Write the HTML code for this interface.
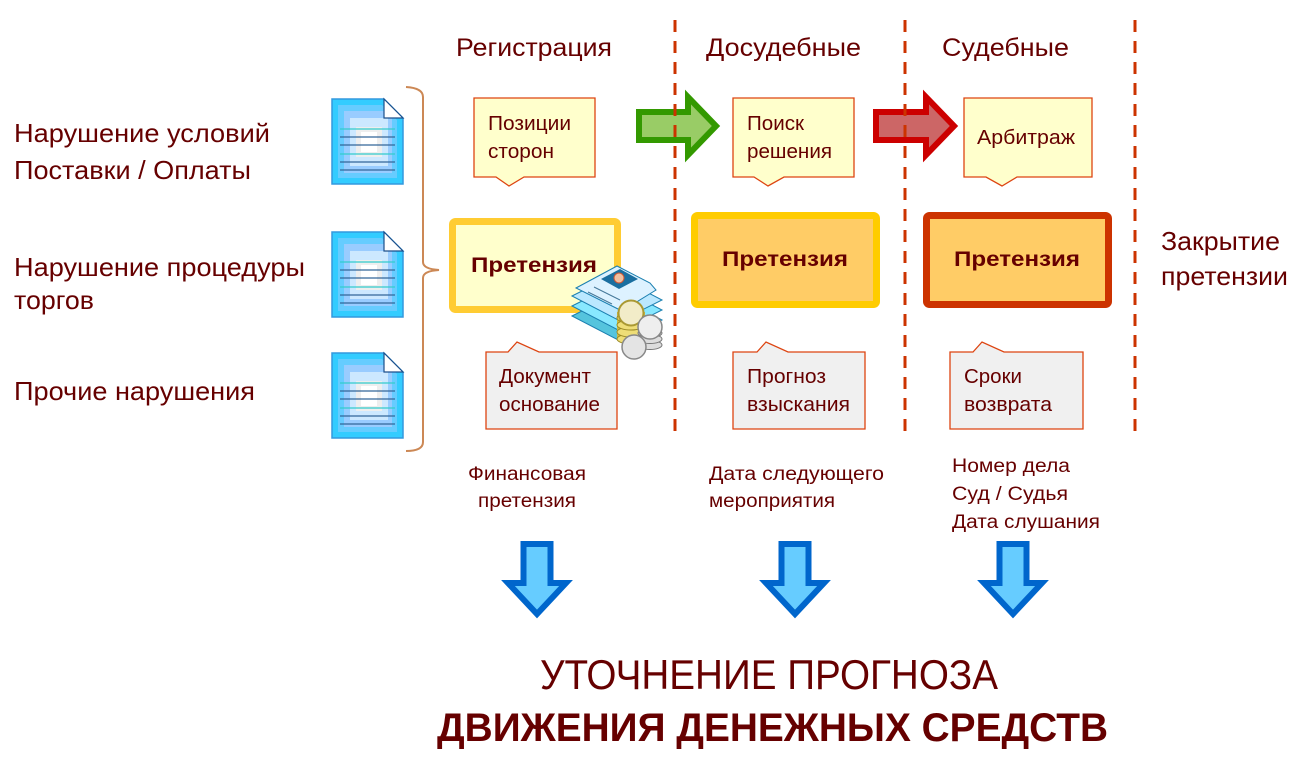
<!DOCTYPE html>
<html><head><meta charset="utf-8"><style>
html,body{margin:0;padding:0;background:#fff;}
svg{display:block;}
text{font-family:"Liberation Sans","Noto Sans CJK SC",sans-serif;fill:#660000;}
</style></head><body>
<svg width="1302" height="762" viewBox="0 0 1302 762" xmlns="http://www.w3.org/2000/svg">
<rect width="1302" height="762" fill="#fff"/>
<defs>
<g id="doc">
  <path d="M0,0 H52 L71,19 V85 H0 Z" fill="#33ccff" stroke="#3399dd" stroke-width="1.5"/>
  <path d="M6,6 H50 L65,21 V79 H6 Z" fill="#66ccff"/>
  <path d="M12,12 H52 L60,20 V74 H12 Z" fill="#99ccff"/>
  <rect x="18" y="19" width="38" height="48" fill="#cce8ff"/>
  <rect x="24" y="28" width="26" height="30" fill="#eeeeee"/>
  <rect x="29" y="33" width="16" height="20" fill="#ffffff"/>
  <g stroke-width="1.3">
    <line x1="8" y1="30" x2="63" y2="30" stroke="#33cccc"/>
    <line x1="8" y1="38" x2="63" y2="38" stroke="#336699"/>
    <line x1="8" y1="46" x2="63" y2="46" stroke="#336699"/>
    <line x1="8" y1="55" x2="63" y2="55" stroke="#33cccc"/>
    <line x1="8" y1="63" x2="63" y2="63" stroke="#336699"/>
    <line x1="8" y1="71" x2="63" y2="71" stroke="#336699"/>
  </g>
  <path d="M52,0 L71,19 H52 Z" fill="#ffffff" stroke="#1d4f8a" stroke-width="1.2"/>
</g>
</defs>

<!-- headers -->
<text x="456" y="56" font-size="25" textLength="156" lengthAdjust="spacingAndGlyphs">Регистрация</text>
<text x="706" y="56" font-size="25" textLength="155" lengthAdjust="spacingAndGlyphs">Досудебные</text>
<text x="942" y="56" font-size="25" textLength="127" lengthAdjust="spacingAndGlyphs">Судебные</text>

<!-- left labels -->
<text x="14" y="142" font-size="26" textLength="256" lengthAdjust="spacingAndGlyphs">Нарушение условий</text>
<text x="14" y="179" font-size="26" textLength="237" lengthAdjust="spacingAndGlyphs">Поставки / Оплаты</text>
<text x="14" y="276" font-size="26" textLength="291" lengthAdjust="spacingAndGlyphs">Нарушение процедуры</text>
<text x="14" y="309" font-size="26" textLength="80" lengthAdjust="spacingAndGlyphs">торгов</text>
<text x="14" y="400" font-size="26" textLength="241" lengthAdjust="spacingAndGlyphs">Прочие нарушения</text>

<!-- doc icons -->
<use href="#doc" x="332" y="99"/>
<use href="#doc" x="332" y="232"/>
<use href="#doc" x="332" y="353"/>

<!-- brace -->
<path d="M406,87 Q423,88 423,97 V262 Q423,269 439,270 Q423,271 423,278 V442 Q423,451 406,451" fill="none" stroke="#cc8855" stroke-width="2"/>

<!-- right label -->
<text x="1161" y="250" font-size="26" textLength="119" lengthAdjust="spacingAndGlyphs">Закрытие</text>
<text x="1161" y="285" font-size="26" textLength="127" lengthAdjust="spacingAndGlyphs">претензии</text>

<!-- top callouts -->
<path d="M474,98 H595 V177 H524 L509,186 L496,177 H474 Z" fill="#ffffcc" stroke="#dd4411" stroke-width="1.3"/>
<path d="M733,98 H854 V177 H784 L768,186 L754,177 H733 Z" fill="#ffffcc" stroke="#dd4411" stroke-width="1.3"/>
<path d="M964,98 H1092 V177 H1017 L1002,186 L986,177 H964 Z" fill="#ffffcc" stroke="#dd4411" stroke-width="1.3"/>
<text x="488" y="130" font-size="20" textLength="83" lengthAdjust="spacingAndGlyphs">Позиции</text>
<text x="488" y="158" font-size="20" textLength="66" lengthAdjust="spacingAndGlyphs">сторон</text>
<text x="747" y="130" font-size="20" textLength="57" lengthAdjust="spacingAndGlyphs">Поиск</text>
<text x="747" y="158" font-size="20" textLength="85" lengthAdjust="spacingAndGlyphs">решения</text>
<text x="977" y="144" font-size="20" textLength="98" lengthAdjust="spacingAndGlyphs">Арбитраж</text>

<!-- arrows right -->
<polygon points="639,112 688,112 688,97 716,126 688,155 688,140 639,140" fill="#99cc66" stroke="#339900" stroke-width="6"/>
<polygon points="876,112 926,112 926,97 954,126 926,155 926,140 876,140" fill="#cc6666" stroke="#cc0000" stroke-width="6"/>

<!-- pretenzia boxes -->
<rect x="452.5" y="221.5" width="165" height="88" rx="3" fill="#ffffcc" stroke="#ffcc33" stroke-width="7"/>
<rect x="694.5" y="215.5" width="182" height="89" rx="3" fill="#ffcc66" stroke="#ffcc00" stroke-width="7"/>
<rect x="926.5" y="215.5" width="182" height="89" rx="3" fill="#ffcc66" stroke="#cc3300" stroke-width="7"/>
<text x="534" y="272" font-size="21" font-weight="bold" text-anchor="middle" textLength="126" lengthAdjust="spacingAndGlyphs">Претензия</text>
<text x="785" y="266" font-size="21" font-weight="bold" text-anchor="middle" textLength="126" lengthAdjust="spacingAndGlyphs">Претензия</text>
<text x="1017" y="266" font-size="21" font-weight="bold" text-anchor="middle" textLength="126" lengthAdjust="spacingAndGlyphs">Претензия</text>

<!-- money illustration -->
<g stroke="#1a7fb0" stroke-width="1">
  <polygon points="572,316 614,295 662,320 620,341" fill="#55c4dd"/>
  <polygon points="572,306 614,285 662,310 620,331" fill="#88e8ff"/>
  <polygon points="572,296 614,275 662,300 620,321" fill="#bbe8ff"/>
  <polygon points="576,288 617,266 650,283 656,290 622,311" fill="#ddf2ff"/>
</g>
<polygon points="601,279 620,269 638,279 619,289" fill="#1a6fa0"/>
<circle cx="619" cy="278" r="5" fill="#f0c0a0" stroke="#cc5533" stroke-width="1"/>
<line x1="588" y1="292" x2="612" y2="304" stroke="#447799" stroke-width="1"/>
<line x1="594" y1="287" x2="620" y2="300" stroke="#447799" stroke-width="1"/>
<g>
  <rect x="617" y="312" width="28" height="28" fill="#ccbb44"/>
  <g fill="#eedd77" stroke="#998822" stroke-width="1">
    <ellipse cx="631" cy="339" rx="14" ry="5"/>
    <ellipse cx="631" cy="332" rx="14" ry="5"/>
    <ellipse cx="631" cy="325" rx="14" ry="5"/>
    <ellipse cx="631" cy="318" rx="14" ry="5"/>
  </g>
  <circle cx="631" cy="313" r="12.5" fill="#f2ecc8" stroke="#aa9933" stroke-width="2"/>
  <g fill="#dddddd" stroke="#777777" stroke-width="1">
    <ellipse cx="650" cy="345" rx="12" ry="4.5"/>
    <ellipse cx="650" cy="339" rx="12" ry="4.5"/>
    <ellipse cx="650" cy="333" rx="12" ry="4.5"/>
  </g>
  <circle cx="650" cy="327" r="12" fill="#eeeeee" stroke="#888888" stroke-width="1.5"/>
  <circle cx="634" cy="347" r="12" fill="#e4e4e4" stroke="#888888" stroke-width="1.5"/>
</g>

<!-- bottom callouts -->
<path d="M486,352 H508 L517,342 L539,352 H617 V429 H486 Z" fill="#f0f0f0" stroke="#dd4411" stroke-width="1.3"/>
<path d="M733,352 H757 L766,342 L788,352 H865 V429 H733 Z" fill="#f0f0f0" stroke="#dd4411" stroke-width="1.3"/>
<path d="M950,352 H973 L982,342 L1004,352 H1083 V429 H950 Z" fill="#f0f0f0" stroke="#dd4411" stroke-width="1.3"/>
<text x="499" y="383" font-size="20" textLength="92" lengthAdjust="spacingAndGlyphs">Документ</text>
<text x="499" y="411" font-size="20" textLength="101" lengthAdjust="spacingAndGlyphs">основание</text>
<text x="747" y="383" font-size="20" textLength="79" lengthAdjust="spacingAndGlyphs">Прогноз</text>
<text x="747" y="411" font-size="20" textLength="103" lengthAdjust="spacingAndGlyphs">взыскания</text>
<text x="964" y="383" font-size="20" textLength="58" lengthAdjust="spacingAndGlyphs">Сроки</text>
<text x="964" y="411" font-size="20" textLength="88" lengthAdjust="spacingAndGlyphs">возврата</text>

<!-- dashed lines -->
<g stroke="#cc3300" stroke-width="3" stroke-dasharray="12 9">
  <line x1="675" y1="20" x2="675" y2="433"/>
  <line x1="905" y1="20" x2="905" y2="433"/>
  <line x1="1135" y1="20" x2="1135" y2="433"/>
</g>

<!-- details text -->
<text x="468" y="480" font-size="19" textLength="118" lengthAdjust="spacingAndGlyphs">Финансовая</text>
<text x="478" y="507" font-size="19" textLength="98" lengthAdjust="spacingAndGlyphs">претензия</text>
<text x="709" y="480" font-size="19" textLength="175" lengthAdjust="spacingAndGlyphs">Дата следующего</text>
<text x="709" y="507" font-size="19" textLength="126" lengthAdjust="spacingAndGlyphs">мероприятия</text>
<text x="952" y="472" font-size="19" textLength="118" lengthAdjust="spacingAndGlyphs">Номер  дела</text>
<text x="952" y="500" font-size="19" textLength="116" lengthAdjust="spacingAndGlyphs">Суд / Судья</text>
<text x="952" y="528" font-size="19" textLength="148" lengthAdjust="spacingAndGlyphs">Дата слушания</text>

<!-- down arrows -->
<g fill="#66ccff" stroke="#0066cc" stroke-width="6">
  <polygon points="523.5,544 550.5,544 550.5,583 566,583 537,614 508,583 523.5,583"/>
  <polygon points="781.5,544 808.5,544 808.5,583 824,583 795,614 766,583 781.5,583"/>
  <polygon points="999.5,544 1026.5,544 1026.5,583 1042,583 1013,614 984,583 999.5,583"/>
</g>

<!-- bottom title -->
<text x="540" y="689" font-size="42" textLength="458" lengthAdjust="spacingAndGlyphs">УТОЧНЕНИЕ ПРОГНОЗА</text>
<text x="437" y="741" font-size="40" font-weight="bold" textLength="671" lengthAdjust="spacingAndGlyphs">ДВИЖЕНИЯ ДЕНЕЖНЫХ СРЕДСТВ</text>
</svg>
</body></html>
